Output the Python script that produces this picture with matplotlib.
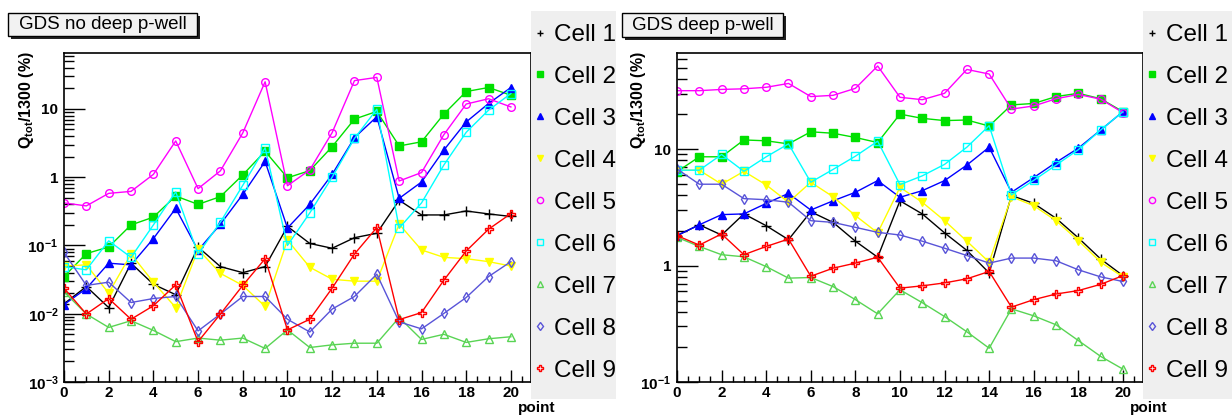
import matplotlib
matplotlib.use("Agg")
import matplotlib.pyplot as plt
from matplotlib.lines import Line2D
from matplotlib.patches import Rectangle

plt.rcParams['font.family'] = ['Liberation Sans', 'DejaVu Sans']
plt.rcParams['mathtext.fontset'] = 'custom'
plt.rcParams['mathtext.rm'] = 'Liberation Sans'
plt.rcParams['mathtext.bf'] = 'Liberation Sans:bold'
plt.rcParams['mathtext.it'] = 'Liberation Sans:italic'

W, H = 1232, 416

POINTS = list(range(21))
CELLS = ["Cell 1", "Cell 2", "Cell 3", "Cell 4", "Cell 5",
         "Cell 6", "Cell 7", "Cell 8", "Cell 9"]

# GDS no deep p-well, Q_tot/1300 (%)
nodeep_cell1 = [0.014, 0.025, 0.0123, 0.055, 0.027, 0.019, 0.095, 0.049, 0.040, 0.049, 0.19,
                0.107, 0.091, 0.13, 0.151, 0.46, 0.28, 0.28, 0.32, 0.29, 0.266]
nodeep_cell2 = [0.035, 0.076, 0.095, 0.20, 0.26, 0.53, 0.40, 0.52, 1.08, 2.4, 0.98,
                1.25, 2.8, 7.1, 9.2, 2.87, 3.3, 8.4, 18, 20.6, 15.9]
nodeep_cell3 = [0.0136, 0.0234, 0.055, 0.052, 0.126, 0.35, 0.085, 0.205, 0.56, 1.7, 0.18,
                0.40, 1.1, 3.8, 7.7, 0.49, 0.85, 2.5, 6.45, 12, 20.6]
nodeep_cell4 = [0.050, 0.052, 0.020, 0.075, 0.029, 0.0123, 0.088, 0.039, 0.026, 0.0128, 0.12,
                0.048, 0.032, 0.030, 0.030, 0.205, 0.086, 0.067, 0.064, 0.058, 0.050]
nodeep_cell5 = [0.42, 0.38, 0.58, 0.62, 1.1, 3.4, 0.68, 1.24, 4.45, 25, 0.75,
                1.28, 4.5, 26, 29, 0.88, 1.17, 4.2, 11.8, 14.1, 10.7]
nodeep_cell6 = [0.049, 0.044, 0.117, 0.067, 0.20, 0.61, 0.075, 0.22, 0.76, 2.7, 0.10,
                0.30, 1.0, 3.7, 9.9, 0.18, 0.42, 1.51, 4.55, 9.6, 16.8]
nodeep_cell7 = [0.021, 0.0099, 0.0063, 0.0079, 0.0057, 0.0039, 0.0044, 0.0041, 0.0044, 0.0031, 0.0058,
                0.0032, 0.0035, 0.0037, 0.0037, 0.0088, 0.0042, 0.0050, 0.0038, 0.0043, 0.0046]
nodeep_cell8 = [0.079, 0.026, 0.029, 0.0146, 0.0167, 0.0179, 0.0056, 0.0099, 0.0179, 0.0179, 0.0083,
                0.0054, 0.0117, 0.0179, 0.038, 0.0076, 0.0060, 0.0101, 0.0173, 0.035, 0.058]
nodeep_cell9 = [0.0237, 0.0099, 0.0167, 0.0083, 0.0131, 0.0265, 0.0039, 0.0099, 0.026, 0.064, 0.0058,
                0.0083, 0.0237, 0.075, 0.183, 0.0082, 0.0104, 0.031, 0.083, 0.173, 0.293]

# GDS deep p-well, Q_tot/1300 (%)
deep_cell1 = [1.81, 2.24, 1.83, 2.78, 2.2, 1.67, 2.9, 2.35, 1.62, 1.18, 3.6,
              2.78, 1.91, 1.35, 0.865, 4.0, 3.42, 2.55, 1.73, 1.14, 0.82]
deep_cell2 = [6.4, 8.6, 8.6, 12, 11.8, 11.1, 14.1, 13.7, 12.6, 11.4, 20,
              18.4, 17.6, 17.8, 15.8, 24, 24.7, 28.3, 30.2, 27.1, 21]
deep_cell3 = [1.81, 2.24, 2.74, 2.78, 3.42, 4.17, 3.0, 3.6, 4.26, 5.37, 3.86,
              4.4, 5.37, 7.3, 10.4, 4.26, 5.7, 7.7, 10.2, 14.6, 21]
deep_cell4 = [6.6, 6.6, 5.0, 6.45, 4.93, 3.5, 5.2, 3.9, 2.69, 1.91, 4.7,
              3.5, 2.43, 1.62, 1.07, 3.9, 3.27, 2.43, 1.64, 1.07, 0.80]
deep_cell5 = [31.8, 31.8, 32.6, 33, 34, 36.7, 28.3, 29, 33.3, 51.8, 27.9,
              26.6, 30.2, 48.4, 44.2, 22.1, 23.5, 27.1, 29.5, 26.9, 20.6]
deep_cell6 = [6.6, 6.6, 9.0, 6.45, 8.6, 11.1, 5.2, 6.7, 8.7, 11.7, 4.96,
              5.9, 7.4, 10.4, 15.9, 4.05, 5.4, 7.3, 9.9, 14.6, 21]
deep_cell7 = [1.75, 1.46, 1.24, 1.19, 0.98, 0.78, 0.79, 0.66, 0.51, 0.385, 0.62,
              0.48, 0.365, 0.27, 0.195, 0.425, 0.37, 0.31, 0.227, 0.166, 0.129]
deep_cell8 = [6.76, 5.0, 5.0, 3.76, 3.68, 3.5, 2.43, 2.35, 2.13, 1.93, 1.83,
              1.62, 1.41, 1.22, 1.05, 1.16, 1.16, 1.10, 0.92, 0.80, 0.73]
deep_cell9 = [1.81, 1.5, 1.87, 1.24, 1.46, 1.69, 0.81, 0.95, 1.05, 1.18, 0.64,
              0.67, 0.71, 0.77, 0.89, 0.44, 0.51, 0.57, 0.61, 0.69, 0.82]

NODEEP = [nodeep_cell1, nodeep_cell2, nodeep_cell3, nodeep_cell4, nodeep_cell5,
          nodeep_cell6, nodeep_cell7, nodeep_cell8, nodeep_cell9]
DEEP = [deep_cell1, deep_cell2, deep_cell3, deep_cell4, deep_cell5,
        deep_cell6, deep_cell7, deep_cell8, deep_cell9]

# ROOT style markers: (colour, marker, filled)
STYLES = [("#000000", "+", True),
          ("#00e000", "s", True),
          ("#0000ff", "^", True),
          ("#ffff00", "v", True),
          ("#ff00ff", "o", False),
          ("#00ffff", "s", False),
          ("#59d454", "^", False),
          ("#5954d8", "d", False),
          ("#ff0000", "P", False)]


def px(x0, y0, x1, y1):
    ''' pixel box (top-left origin) -> figure fraction rect '''
    return [x0 / W, 1 - y1 / H, (x1 - x0) / W, (y1 - y0) / H]


def draw_panel(fig, rect, data, ylim, yticks, ylabels):
    ax = fig.add_axes(rect)
    for i in range(len(data)):
        col, mk, filled = STYLES[i]
        ax.plot(POINTS, data[i], color=col, lw=1.0, marker=mk,
                markersize=5.5 if mk != "+" else 6.5,
                mfc=col if filled else "none", mec=col, mew=1.0)
    ax.set_yscale("log")
    ax.set_xlim(0, 20.9)
    ax.set_ylim(*ylim)
    ax.set_xticks(range(0, 21, 2))
    ax.set_xticks([i * 0.5 for i in range(42)], minor=True)
    ax.set_yticks(yticks)
    ax.set_yticklabels(ylabels)
    ax.tick_params(axis="x", which="major", direction="in", length=9,
                   width=1, labelsize=11, pad=3, top=False)
    ax.tick_params(axis="x", which="minor", direction="in", length=4.5,
                   width=1, top=False)
    ax.tick_params(axis="y", which="major", direction="in", length=15,
                   width=1, labelsize=11, pad=4, right=False)
    ax.tick_params(axis="y", which="minor", direction="in", length=7,
                   width=1, right=False)
    for lab in ax.get_xticklabels() + ax.get_yticklabels():
        lab.set_fontweight("bold")
    for sp in ax.spines.values():
        sp.set_linewidth(1.2)
    return ax


def title_box(fig, x0, y0, x1, y1, text):
    fig.patches.append(Rectangle((((x0 + 3) / W), 1 - (y1 + 3) / H),
                                 (x1 - x0) / W, (y1 - y0) / H,
                                 transform=fig.transFigure, fc="#222222",
                                 ec="none", zorder=5))
    fig.patches.append(Rectangle((x0 / W, 1 - y1 / H), (x1 - x0) / W,
                                 (y1 - y0) / H, transform=fig.transFigure,
                                 fc="#f2f2f2", ec="black", lw=1.0, zorder=6))
    fig.text((x0 + x1) / 2 / W, 1 - (y0 + y1) / 2 / H, text, fontsize=13.5,
             ha="center", va="center", zorder=7)


def legend_box(fig, x0, y0, x1, y1):
    fig.patches.append(Rectangle((x0 / W, 1 - y1 / H), (x1 - x0) / W,
                                 (y1 - y0) / H, transform=fig.transFigure,
                                 fc="#efefef", ec="none", zorder=5))
    handles = []
    for col, mk, filled in STYLES:
        handles.append(Line2D([], [], ls="none", marker=mk, color=col,
                              markersize=4.5, mfc=col if filled else "none",
                              mec=col, mew=1.0))
    leg = fig.legend(handles, CELLS, loc="upper left",
                     bbox_to_anchor=(x0 / W + 0.001, 1 - (y0 + 13) / H),
                     frameon=False, fontsize=17.5, handlelength=0.6,
                     handletextpad=0.3, labelspacing=0.82, borderpad=0,
                     borderaxespad=0)
    leg.set_zorder(8)


fig = plt.figure(figsize=(W / 100, H / 100), dpi=100)

ax1 = draw_panel(fig, px(64, 53, 531, 382), NODEEP, (1e-3, 66),
                 [1e-3, 1e-2, 1e-1, 1, 10],
                 [r"10$^{\mathbf{-3}}$", r"10$^{\mathbf{-2}}$",
                  r"10$^{\mathbf{-1}}$", "1", "10"])
ax2 = draw_panel(fig, px(677, 53, 1143, 382), DEEP, (0.1, 67),
                 [0.1, 1, 10],
                 [r"10$^{\mathbf{-1}}$", "1", "10"])

ylab = r"Q$_{\mathbf{tot}}$/1300 (%)"
fig.text(26 / W, 1 - 100 / H, ylab, rotation=90, ha="center", va="center",
         fontsize=11.5, fontweight="bold")
fig.text(638 / W, 1 - 100 / H, ylab, rotation=90, ha="center", va="center",
         fontsize=11.5, fontweight="bold")
fig.text(555 / W, 1 - 408 / H, "point", ha="right", va="center",
         fontsize=11, fontweight="bold")
fig.text(1167 / W, 1 - 408 / H, "point", ha="right", va="center",
         fontsize=11, fontweight="bold")

title_box(fig, 8, 13, 197, 36, "GDS no deep p-well")
title_box(fig, 622, 13, 783, 37, "GDS deep p-well")

legend_box(fig, 531, 11, 616, 399)
legend_box(fig, 1143, 11, 1232, 399)

fig.savefig("out.png", dpi=100)
